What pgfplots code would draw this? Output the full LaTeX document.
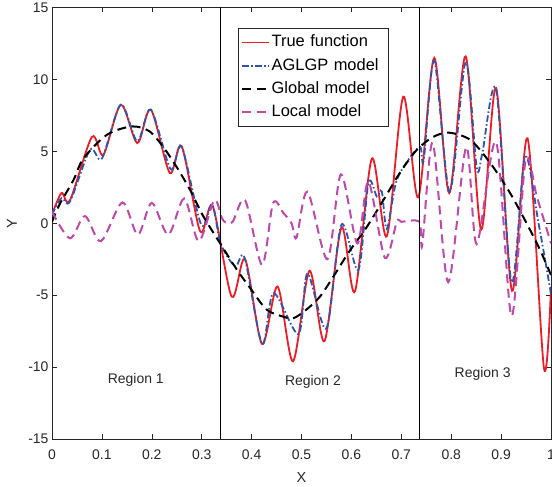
\documentclass[border=0pt]{standalone}
\usepackage{fontspec}
\setmainfont{Liberation Sans}
\usepackage{pgfplots}
\pgfplotsset{compat=1.18}

\definecolor{truered}{RGB}{237,28,36}
\definecolor{aglgpblue}{RGB}{46,84,176}
\definecolor{localmag}{RGB}{190,72,172}
\definecolor{axgray}{RGB}{38,38,38}

\begin{document}
\begin{tikzpicture}
\begin{axis}[
    scale only axis,
    width=499bp, height=431.5bp,
    xmin=0, xmax=1, ymin=-15, ymax=15,
    xtick={0,0.1,0.2,0.3,0.4,0.5,0.6,0.7,0.8,0.9,1},
    xticklabels={0,0.1,0.2,0.3,0.4,0.5,0.6,0.7,0.8,0.9,1},
    ytick={-15,-10,-5,0,5,10,15},
    yticklabels={-15,-10,-5,0,5,10,15},
    tick align=inside,
    major tick length=5bp,
    axis line style={axgray, line width=0.6bp},
    every tick/.style={axgray, line width=0.6bp},
    ticklabel style={font=\fontsize{14}{16}\selectfont, text=axgray},
    xticklabel style={yshift=-7.5bp},
    /pgf/number format/assume math mode=true,
    xlabel={X}, ylabel={Y},
    label style={font=\fontsize{14.5}{16}\selectfont, text=axgray},
    xlabel style={at={(axis description cs:0.5,-0.089)}, anchor=center},
    ylabel style={at={(axis description cs:-0.0802,0.5)}, anchor=center},
    legend cell align=left,
    legend image code/.code={\draw[#1, line width=1.9bp] (0bp,0bp) -- (27bp,0bp);},
    legend style={
        at={(axis description cs:0.3727,0.9525)}, anchor=north west,
        draw=axgray, line width=0.6bp,
        font=\fontsize{16.5}{18}\selectfont,
        inner xsep=3bp, inner ysep=6.2bp,
        row sep=7.2bp,
        nodes={inner xsep=1.5bp, inner ysep=0bp, text width=112bp,
               text height=12.5bp, text depth=3.5bp},
    },
]

% true function
\addplot[truered, line width=1.8bp, smooth] coordinates {
(0,0.6) (0.019,2.1) (0.036,1.6) (0.080,6.0) (0.103,4.76) (0.138,8.24)
(0.171,5.57) (0.198,7.9) (0.236,3.5) (0.260,5.35) (0.297,-0.57) (0.322,1.2)
(0.360,-5.1) (0.387,-2.5) (0.421,-8.4) (0.452,-4.4) (0.483,-9.6) (0.516,-3.3)
(0.546,-8.2) (0.580,-0.3) (0.607,-4.75) (0.641,4.5) (0.671,-0.9) (0.704,8.8)
(0.734,1.8) (0.766,11.5) (0.796,2.1) (0.829,11.6) (0.860,-0.45) (0.890,9.4)
(0.922,-4.7) (0.953,5.9) (0.986,-10.1) (1.0,-4.4)
};
\addlegendentry{True function}

% AGLGP model
\addplot[aglgpblue, line width=1.8bp, smooth,
    dash pattern=on 6.5bp off 2.5bp on 1.5bp off 2.5bp] coordinates {
(0,0.6) (0.019,1.75) (0.036,1.5) (0.076,5.1) (0.100,4.5) (0.138,8.24)
(0.171,5.7) (0.198,7.9) (0.238,3.75) (0.260,5.3) (0.299,-0.1) (0.321,1.3)
(0.338,-1.4) (0.367,-3.0) (0.386,-2.4) (0.421,-8.4) (0.444,-4.86) (0.494,-7.7)
(0.512,-3.5) (0.550,-7.3) (0.580,-0.1) (0.614,-3.25) (0.634,2.8) (0.651,1.86)
(0.661,2.2) (0.671,-0.4) (0.690,2.9) (0.718,4.6) (0.738,5.3) (0.745,4.4)
(0.766,11.3) (0.797,2.2) (0.829,11.2) (0.851,3.9) (0.862,4.8) (0.890,9.3)
(0.921,-4.1) (0.948,4.6) (0.975,0.0) (1.0,-4.9)
};
\addlegendentry{AGLGP model}

% global model
\addplot[black, line width=2bp, smooth, dash pattern=on 9bp off 5.5bp] coordinates {
(0,0.1) (0.015,1.3) (0.043,3.0) (0.063,4.5) (0.110,6.15) (0.160,6.73)
(0.195,6.4) (0.223,5.3) (0.250,3.9) (0.277,2.3) (0.303,0.5) (0.337,-1.4)
(0.370,-3.2) (0.396,-4.45) (0.430,-6.0) (0.464,-6.5) (0.484,-6.6) (0.510,-6.0)
(0.537,-5.1) (0.564,-3.7) (0.595,-2.0) (0.630,-0.3) (0.664,1.6) (0.697,3.5)
(0.731,5.1) (0.764,6.0) (0.795,6.3) (0.838,5.8) (0.878,4.2) (0.918,2.1)
(0.958,-0.46) (0.980,-2.0) (1.0,-3.6)
};
\addlegendentry{Global model}

% local model
\addplot[localmag, line width=2bp, smooth, dash pattern=on 9bp off 5.5bp] coordinates {
(0,0.8) (0.036,-1.05) (0.066,0.5) (0.098,-1.25) (0.141,1.45) (0.172,-0.8)
(0.200,1.42) (0.233,-0.8) (0.265,1.72) (0.294,-1.25) (0.325,1.6) (0.340,0.4)
(0.348,0.05) (0.362,0.1) (0.387,1.6) (0.421,-2.9) (0.443,1.4) (0.464,0.7)
(0.480,0.0) (0.490,-1.0) (0.512,2.2) (0.552,-2.5) (0.579,3.4) (0.612,-1.4)
(0.634,2.9) (0.667,-2.4) (0.691,0.1) (0.700,0.1) (0.736,0.1) (0.742,-1.5)
(0.763,5.6) (0.794,-4.1) (0.830,5.3) (0.851,-1.45) (0.890,5.65) (0.921,-6.45)
(0.949,4.35) (0.972,1.8) (1.0,-1.4)
};
\addlegendentry{Local model}

% region boundaries
\addplot[black, line width=0.6bp, forget plot] coordinates {(0.337,-15) (0.337,15)};
\addplot[black, line width=0.6bp, forget plot] coordinates {(0.737,-15) (0.737,15)};

\node[font=\fontsize{14}{16}\selectfont, text=axgray] at (axis cs:0.168,-10.9) {Region 1};
\node[font=\fontsize{14}{16}\selectfont, text=axgray] at (axis cs:0.523,-11.05) {Region 2};
\node[font=\fontsize{14}{16}\selectfont, text=axgray] at (axis cs:0.863,-10.5) {Region 3};

\end{axis}
\pgfresetboundingbox
\path (-52bp,-48bp) rectangle (500bp,439bp);
\end{tikzpicture}
\end{document}
